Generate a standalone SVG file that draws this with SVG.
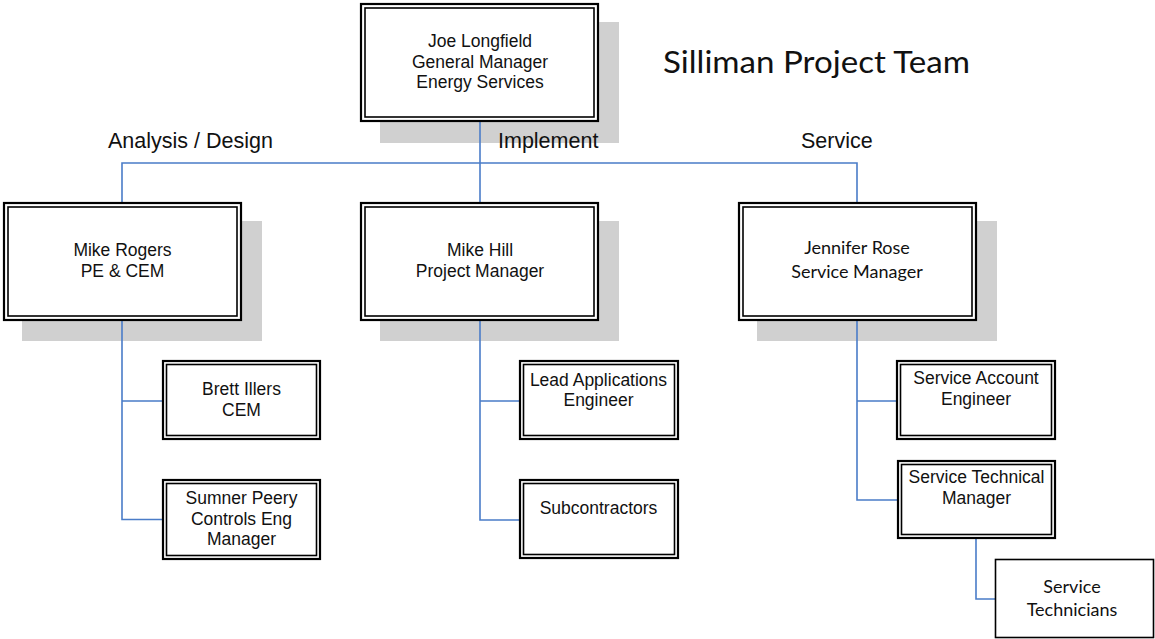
<svg xmlns="http://www.w3.org/2000/svg" width="1155" height="639" viewBox="0 0 1155 639">
  <style>
    .shadow { fill: #d0d0d0; stroke: none; }
    .outer { fill: #ffffff; stroke: #000000; stroke-width: 2.2; }
    .inner { fill: none; stroke: #000000; stroke-width: 1.6; }
    .single { fill: #ffffff; stroke: #000000; stroke-width: 1.6; }
    .txt { font-family: "Liberation Sans", Arial, sans-serif; font-size: 17.5px; fill: #111111; text-anchor: middle; }
    .txt2 { font-family: Lato, "Open Sans", sans-serif; font-size: 18px; fill: #111111; text-anchor: middle; }
    .label { font-family: "Liberation Sans", Arial, sans-serif; font-size: 21.5px; fill: #111111; }
    .title { font-family: Lato, "Open Sans", sans-serif; font-size: 30px; fill: #111111; }
    .conn { fill: none; stroke: #4a7cc8; stroke-width: 1.6; }
  </style>

  <rect width="1155" height="639" fill="#ffffff"/>

  <!-- drop shadows behind the managers -->
  <g id="shadows">
    <rect class="shadow" x="380" y="22" width="239" height="121"/>
    <rect class="shadow" x="22" y="221" width="240" height="120"/>
    <rect class="shadow" x="380" y="221" width="239" height="120"/>
    <rect class="shadow" x="757" y="221" width="240" height="120"/>
  </g>

  <!-- reporting lines -->
  <g id="connectors">
    <path class="conn" d="M480 122 V202"/>
    <path class="conn" d="M122 202 V163 H857 V202"/>
    <path class="conn" d="M122 321 V519.5 H162 M122 401 H162"/>
    <path class="conn" d="M480 321 V520 H519 M480 401 H519"/>
    <path class="conn" d="M857 321 V500 H897 M857 401 H896"/>
    <path class="conn" d="M976 539 V599 H995"/>
  </g>

  <text class="title" x="663" y="73" textLength="307" lengthAdjust="spacingAndGlyphs">Silliman Project Team</text>
  <text class="label" x="108" y="148">Analysis / Design</text>
  <text class="label" x="498" y="148">Implement</text>
  <text class="label" x="801" y="148">Service</text>

  <g id="joe-longfield">
    <rect class="outer" x="361" y="4" width="237" height="117"/>
    <rect class="inner" x="365" y="8" width="229" height="109"/>
    <text class="txt" x="480" y="47">Joe Longfield</text>
    <text class="txt" x="480" y="67.5">General Manager</text>
    <text class="txt" x="480" y="88">Energy Services</text>
  </g>

  <g id="mike-rogers">
    <rect class="outer" x="4" y="203" width="237" height="117"/>
    <rect class="inner" x="8" y="207" width="229" height="109"/>
    <text class="txt" x="122.5" y="256">Mike Rogers</text>
    <text class="txt" x="122.5" y="277">PE &amp; CEM</text>
  </g>

  <g id="mike-hill">
    <rect class="outer" x="361" y="203" width="237" height="117"/>
    <rect class="inner" x="365" y="207" width="229" height="109"/>
    <text class="txt" x="480" y="256">Mike Hill</text>
    <text class="txt" x="480" y="277">Project Manager</text>
  </g>

  <g id="jennifer-rose">
    <rect class="outer" x="739" y="203" width="237" height="117"/>
    <rect class="inner" x="743" y="207" width="229" height="109"/>
    <text class="txt2" x="857" y="254">Jennifer Rose</text>
    <text class="txt2" x="857" y="278">Service Manager</text>
  </g>

  <g id="brett-illers">
    <rect class="outer" x="163" y="361" width="157" height="78"/>
    <rect class="inner" x="166.5" y="364.5" width="150" height="71"/>
    <text class="txt" x="241.5" y="395">Brett Illers</text>
    <text class="txt" x="241.5" y="416">CEM</text>
  </g>

  <g id="sumner-peery">
    <rect class="outer" x="163" y="480" width="157" height="79"/>
    <rect class="inner" x="166.5" y="483.5" width="150" height="72"/>
    <text class="txt" x="241.5" y="504">Sumner Peery</text>
    <text class="txt" x="241.5" y="525">Controls Eng</text>
    <text class="txt" x="241.5" y="545">Manager</text>
  </g>

  <g id="lead-applications-engineer">
    <rect class="outer" x="520" y="361" width="158" height="78"/>
    <rect class="inner" x="523.5" y="364.5" width="151" height="71"/>
    <text class="txt" x="598.5" y="386">Lead Applications</text>
    <text class="txt" x="598.5" y="406">Engineer</text>
  </g>

  <g id="subcontractors">
    <rect class="outer" x="520" y="480" width="158" height="78"/>
    <rect class="inner" x="523.5" y="483.5" width="151" height="71"/>
    <text class="txt" x="598.5" y="514">Subcontractors</text>
  </g>

  <g id="service-account-engineer">
    <rect class="outer" x="897" y="361" width="158" height="78"/>
    <rect class="inner" x="900.5" y="364.5" width="151" height="71"/>
    <text class="txt" x="976" y="384">Service Account</text>
    <text class="txt" x="976" y="405">Engineer</text>
  </g>

  <g id="service-technical-manager">
    <rect class="outer" x="898" y="461" width="157" height="77"/>
    <rect class="inner" x="901.5" y="464.5" width="150" height="70"/>
    <text class="txt" x="976.5" y="483">Service Technical</text>
    <text class="txt" x="976.5" y="504">Manager</text>
  </g>

  <g id="service-technicians">
    <rect class="single" x="995.5" y="559.5" width="158" height="78"/>
    <text class="txt2" x="1072" y="593">Service</text>
    <text class="txt2" x="1072" y="616">Technicians</text>
  </g>
</svg>
